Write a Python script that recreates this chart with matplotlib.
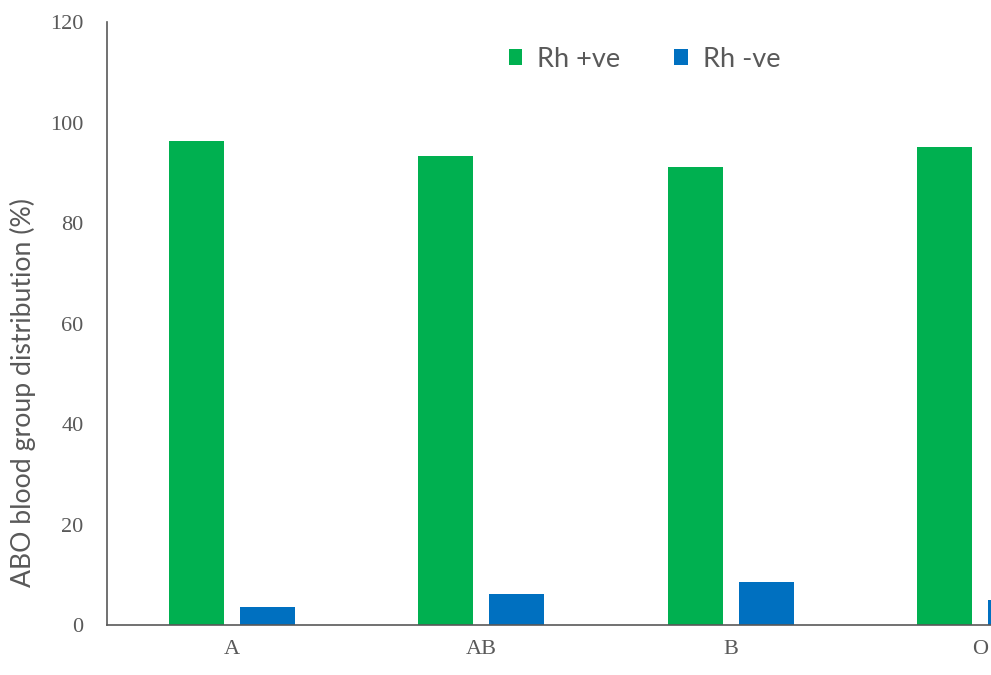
import numpy as np
import matplotlib.pyplot as plt

groups = ["A", "AB", "B", "O"]
rh_pos = [96.3, 93.3, 91.1, 95.1]
rh_neg = [3.6, 6.2, 8.6, 5.0]

GREEN = "#00B050"
BLUE = "#0070C0"
GREY = "#595959"


def main():
    fig = plt.figure(figsize=(9.91, 6.75), dpi=100)
    # axes run past the right border, so the last group is clipped
    ax = fig.add_axes([0.108, 0.0741, 1.007, 0.893])

    x = np.arange(len(groups))
    w = 0.22
    off = 0.142
    ax.bar(x - off, rh_pos, w, color=GREEN, label="Rh +ve")
    ax.bar(x + off, rh_neg, w, color=BLUE, label="Rh -ve")

    ax.set_xlim(-0.5, 3.5)
    ax.set_ylim(0, 120)
    ax.set_yticks(range(0, 121, 20))
    ax.set_xticks(x)
    ax.set_xticklabels(groups)

    for s in ("top", "right"):
        ax.spines[s].set_visible(False)
    ax.spines["left"].set_color(GREY)
    ax.spines["bottom"].set_color(GREY)
    ax.spines["left"].set_linewidth(1.2)
    ax.spines["bottom"].set_linewidth(1.2)

    ax.tick_params(length=0, colors=GREY, labelsize=16)
    ax.tick_params(axis="y", pad=17)
    ax.tick_params(axis="x", pad=11)
    for lab in ax.get_xticklabels() + ax.get_yticklabels():
        lab.set_family("Liberation Serif")

    ax.set_ylabel("ABO blood group distribution (%)", fontsize=19.2,
                  color=GREY, family="Lato")
    ax.yaxis.set_label_coords(-0.071, 0.385)

    leg = ax.legend(loc="upper left", bbox_to_anchor=(0.378, 1.0), ncol=2,
                    frameon=False, handlelength=0.5,
                    handleheight=0.5, columnspacing=2.0, handletextpad=0.55,
                    prop={"family": "Lato", "size": 19.5})
    for t in leg.get_texts():
        t.set_color(GREY)

    fig.savefig("out.png", dpi=100)
    plt.close(fig)


if __name__ == "__main__":
    main()
